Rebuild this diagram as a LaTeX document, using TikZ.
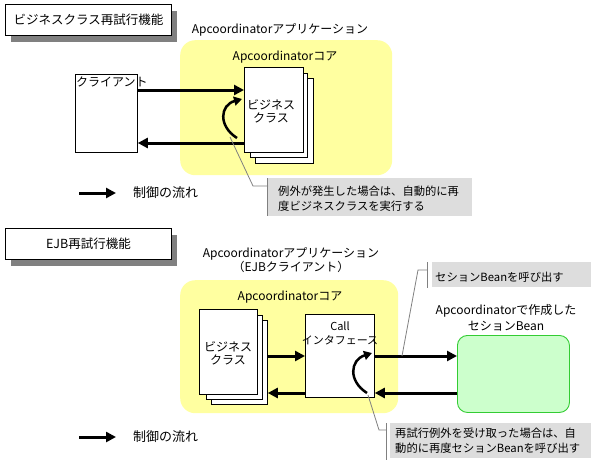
\documentclass[tikz,border=0pt]{standalone}
\usepackage{fontspec}
\setmainfont{Noto Sans CJK JP}
\usetikzlibrary{arrows.meta,calc,shadows}
\definecolor{coreyellow}{RGB}{255,255,160}
\definecolor{calloutgray}{RGB}{221,221,221}
\definecolor{beanfill}{RGB}{204,255,204}
\definecolor{beanedge}{RGB}{51,204,51}
\definecolor{shadowgray}{RGB}{128,128,128}
\definecolor{leadergray}{RGB}{128,128,128}
\begin{document}
\begin{tikzpicture}[x=1pt,y=-1pt,
  font=\fontsize{12}{14}\selectfont,
  titlebox/.style={draw=black,line width=1pt,fill=white,anchor=north west,inner sep=0pt,
    font=\fontsize{12.5}{14}\selectfont,
    drop shadow={shadow xshift=5pt,shadow yshift=-6pt,opacity=1,fill=shadowgray}},
  corearea/.style={fill=coreyellow,draw=none,rounded corners=15pt,anchor=north west,inner sep=0pt},
  plainbox/.style={draw=black,line width=0.8pt,fill=white,anchor=north west,inner sep=0pt},
  beanbox/.style={draw=beanedge,line width=0.9pt,fill=beanfill,rounded corners=10pt,anchor=north west,inner sep=0pt},
  callout/.style={fill=calloutgray,draw=none,anchor=north west,inner sep=0pt},
  calltext/.style={anchor=west,inner sep=0pt,font=\fontsize{11.3}{13}\selectfont},
  lbl/.style={inner sep=0pt},
  legendtext/.style={anchor=west,inner sep=0pt,font=\fontsize{13}{14}\selectfont},
  flow/.style={line width=3pt,-{Triangle[length=10pt,width=10pt]}},
  loopflow/.style={line width=2.5pt,-{Triangle[length=8pt,width=9pt]}},
  leader/.style={draw=leadergray,line width=0.8pt},
  calloutbar/.style={draw=leadergray,line width=1pt}
]
\useasboundingbox (0,0) rectangle (599,461);

% ===== Section 1 =====
\node[titlebox,minimum width=166pt,minimum height=31pt] (title1) at (5,4) {ビジネスクラス再試行機能};
\node[lbl] (app1) at (280,30) {Apcoordinatorアプリケーション};
\node[corearea,minimum width=212pt,minimum height=135pt] (core1) at (180,40) {};
\node[lbl] (core1lbl) at (285,57) {Apcoordinatorコア};

\node[plainbox,minimum width=62pt,minimum height=78pt] (client) at (75,74) {};
\node[lbl,anchor=north west] (clientlbl) at (76,77) {クライアント};

\node[plainbox,minimum width=58pt,minimum height=85pt] (biz1c) at (255,78) {};
\node[plainbox,minimum width=57pt,minimum height=84pt] (biz1b) at (250,73) {};
\node[plainbox,minimum width=59pt,minimum height=85pt] (biz1a) at (244,67) {};
\node[lbl,align=center,font=\fontsize{12}{13}\selectfont] (biz1lbl) at (271,111) {ビジネス\\クラス};

\coordinate (r1a) at (0,90);
\coordinate (r1b) at (0,143);
\draw[flow] (client.east |- r1a) -- (biz1a.west |- r1a);
\draw[flow] (biz1a.west |- r1b) -- (client.east |- r1b);

\coordinate (loop1s) at (237,138);
\coordinate (loop1e) at (242,99);
\draw[loopflow] (loop1s) .. controls (218,126) and (220,105) .. (loop1e);

\node[callout,minimum width=204pt,minimum height=38pt] (note1) at (268,178) {};
\draw[calloutbar] (note1.north west) ++(-1,0) -- ++(0,38);
\node[calltext] (note1a) at (278,191) {例外が発生した場合は、自動的に再};
\node[calltext] (note1b) at (278,206) {度ビジネスクラスを実行する};
\coordinate (lead1s) at (230,137);
\coordinate (lead1m) at (253,186);
\draw[leader] (lead1s) -- (lead1m) -- (note1.west |- lead1m);

\coordinate (leg1s) at (79,193);
\coordinate (leg1e) at (116,193);
\draw[flow] (leg1s) -- (leg1e);
\node[legendtext] (leg1lbl) at (133,193) {制御の流れ};

% ===== Section 2 =====
\node[titlebox,minimum width=166pt,minimum height=31pt] (title2) at (5,228) {EJB再試行機能};
\node[lbl,align=center] (app2) at (291,260) {Apcoordinatorアプリケーション\\（EJBクライアント）};
\node[corearea,minimum width=218pt,minimum height=133pt] (core2) at (180,280) {};
\node[lbl] (core2lbl) at (290,297) {Apcoordinatorコア};

\node[plainbox,minimum width=56pt,minimum height=84pt] (biz2c) at (211,320) {};
\node[plainbox,minimum width=56pt,minimum height=84pt] (biz2b) at (206,315) {};
\node[plainbox,minimum width=58pt,minimum height=85pt] (biz2a) at (199,309) {};
\node[lbl,align=center,font=\fontsize{12}{13}\selectfont] (biz2lbl) at (228,353) {ビジネス\\クラス};

\node[plainbox,minimum width=69pt,minimum height=83pt] (call) at (305,314) {};
\node[lbl,align=center,font=\fontsize{11}{14}\selectfont] (calllbl) at (340,333) {Call\\インタフェース};

\node[beanbox,minimum width=112pt,minimum height=77pt] (bean) at (457,335) {};
\node[lbl,align=center,font=\fontsize{12}{16}\selectfont] (beanlbl) at (506,318) {Apcoordinatorで作成した\\セションBean};

\coordinate (r2a) at (0,356);
\coordinate (r2b) at (0,393);
\draw[flow] (biz2c.east |- r2a) -- (call.west |- r2a);
\draw[flow] (call.west |- r2b) -- (biz2c.east |- r2b);
\draw[flow] (call.east |- r2a) -- (bean.west |- r2a);
\draw[flow] (bean.west |- r2b) -- (call.east |- r2b);

\coordinate (loop2s) at (367,393);
\coordinate (loop2e) at (372,353);
\draw[loopflow] (loop2s) .. controls (348,381) and (350,360) .. (loop2e);

\node[callout,minimum width=159pt,minimum height=25pt] (note2) at (432,262) {};
\draw[calloutbar] (427,262) -- (427,288);
\node[calltext] (note2a) at (435,277) {セションBeanを呼び出す};
\coordinate (lead2s) at (402,356);
\coordinate (lead2m) at (418,270);
\draw[leader] (lead2s) -- (lead2m) -- (427,270);

\node[callout,minimum width=201pt,minimum height=35pt] (note3) at (390,423) {};
\draw[calloutbar] (386,423) -- (386,460);
\node[calltext] (note3a) at (395,433) {再試行例外を受け取った場合は、自};
\node[calltext] (note3b) at (395,448) {動的に再度セションBeanを呼び出す};
\coordinate (lead3s) at (368,395);
\coordinate (lead3m) at (379,430);
\draw[leader] (lead3s) -- (lead3m) -- (386,430);

\coordinate (leg2s) at (79,437);
\coordinate (leg2e) at (116,437);
\draw[flow] (leg2s) -- (leg2e);
\node[legendtext] (leg2lbl) at (133,437) {制御の流れ};
\end{tikzpicture}
\end{document}
